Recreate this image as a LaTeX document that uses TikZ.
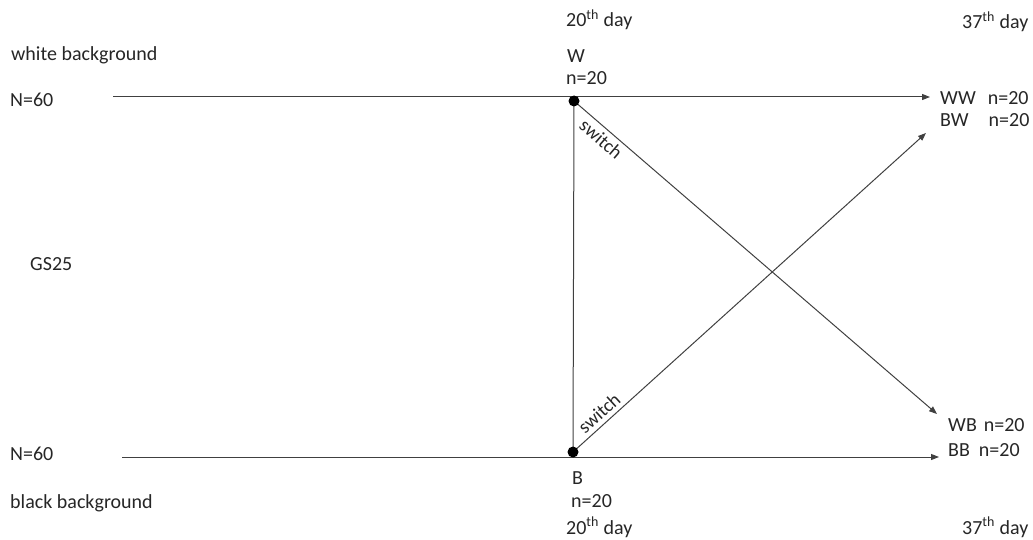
\documentclass[tikz,border=0pt]{standalone}
\usepackage{fontspec}
\setmainfont{Carlito}
\usetikzlibrary{arrows.meta}
\definecolor{ink}{HTML}{262626}
\definecolor{linec}{HTML}{404040}
\tikzset{
  lbl/.style={anchor=base west, inner sep=0pt, text=ink, font=\fontsize{20}{24}\selectfont},
  swl/.style={sloped, inner sep=4pt, text=ink, font=\fontsize{19}{22}\selectfont},
  conn/.style={draw=linec, line width=1pt, -{Triangle[length=8pt,width=6pt]}},
  plain/.style={draw=linec, line width=1pt},
  dotn/.style={circle, fill=black, inner sep=0pt, minimum size=11pt}
}
\begin{document}
\begin{tikzpicture}[x=1pt,y=-1pt]
\useasboundingbox (0,0) rectangle (1033,540);
% texts
\node[lbl] (d20t) at (566,27) {20\textsuperscript{th} day};
\node[lbl] (d37t) at (962,29) {37\textsuperscript{th} day};
\node[lbl] (wbg) at (11,61) {white background};
\node[lbl] (wlab) at (567,63) {W};
\node[lbl] (wn) at (566,85) {n=20};
\node[lbl] (n60t) at (10,107) {N=60};
\node[lbl] (ww) at (940,105) {WW\hspace{12pt}n=20};
\node[lbl] (bw) at (940,127) {BW\hspace{20pt}n=20};
\node[lbl] (gs) at (30,270) {GS25};
\node[lbl] (wb) at (948,431) {WB\hspace{7pt}n=20};
\node[lbl] (bb) at (948,456) {BB\hspace{9pt}n=20};
\node[lbl] (n60b) at (10,460) {N=60};
\node[lbl] (blab) at (572,484) {B};
\node[lbl] (bn) at (571,507) {n=20};
\node[lbl] (bbg) at (10,508) {black background};
\node[lbl] (d20b) at (566,534) {20\textsuperscript{th} day};
\node[lbl] (d37b) at (962,534) {37\textsuperscript{th} day};
% anchors
\coordinate (ts) at (113,97);
\coordinate (te) at (930,97);
\coordinate (bs) at (122,457);
\coordinate (be) at (939,457);
\coordinate (topdot) at (574,101);
\coordinate (botdot) at (573,452);
\coordinate (wbtip) at (937,414);
\coordinate (bwtip) at (926,133);
% lines
\draw[conn] (ts) -- (te);
\draw[conn] (bs) -- (be);
\draw[plain] (topdot) -- (botdot);
\draw[conn] (topdot) -- node[pos=0.095, below, swl] (sw1) {switch} (wbtip);
\draw[conn] (botdot) -- node[pos=0.095, above, swl] (sw2) {switch} (bwtip);
\node[dotn] (tdot) at (topdot) {};
\node[dotn] (bdot) at (botdot) {};
\end{tikzpicture}
\end{document}
